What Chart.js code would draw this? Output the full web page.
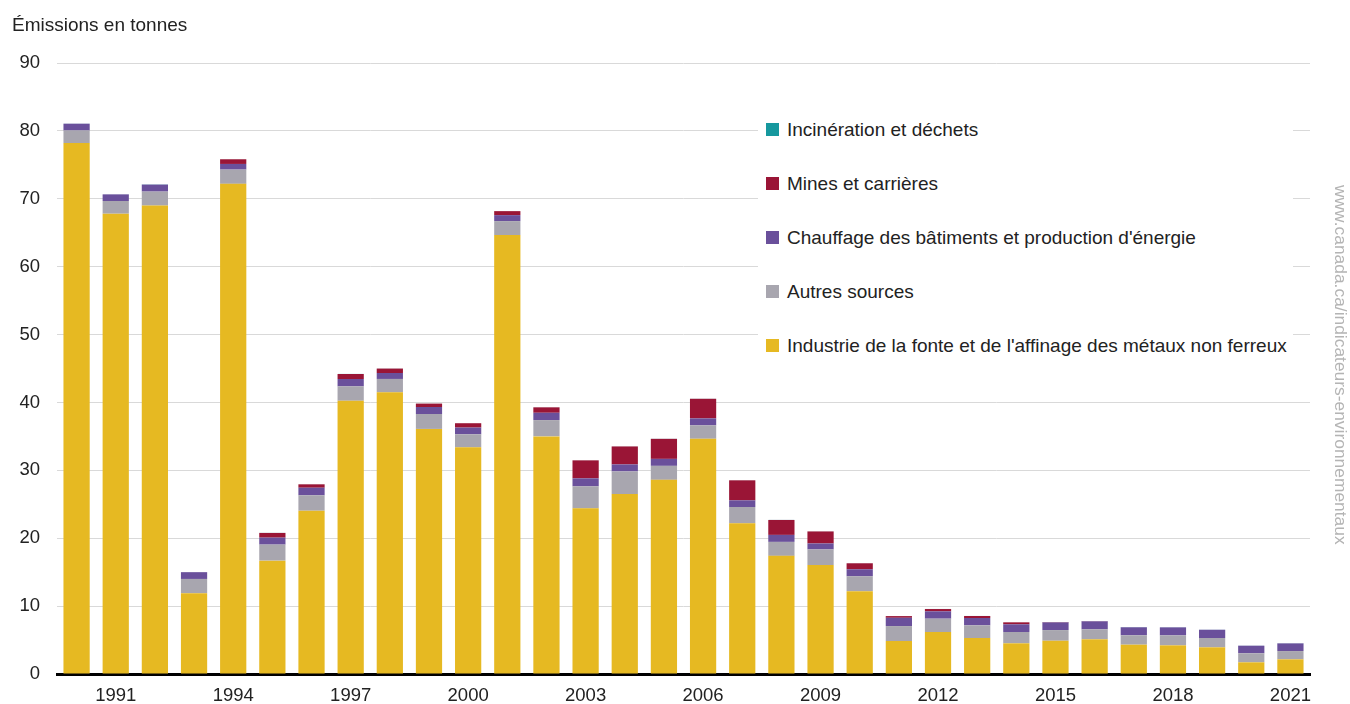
<!DOCTYPE html>
<html>
<head>
<meta charset="UTF-8">
<title>Émissions en tonnes</title>
<style>
	body {margin:0; background:#fff; font-family:"Liberation Sans", Arial, sans-serif;}
	#wrap {position:relative; width:1350px; height:704px;}
	#title {position:absolute; left:12px; top:14px; font-size:19px; color:#222;}
	#legend {position:absolute; left:758px; top:112px; width:535px; background:#fff; padding:4px 0;}
	.item {height:54px; line-height:28px; font-size:19px; color:#222; padding-left:8px;}
	.item span.box {display:inline-block; width:13px; height:13px; margin-right:8px; vertical-align:0px;}
	#source {position:absolute; left:1330px; top:185px; writing-mode:vertical-rl; font-size:17.4px; color:#b4b4b4;}
</style>
</head>
<body>
<div id="wrap">
	<canvas id="myChart" width="1350" height="704"></canvas>
	<div id="title">Émissions en tonnes</div>
	<div id="legend"></div>
	<div id="source">www.canada.ca/indicateurs-environnementaux</div>
</div>
<script src="https://cdn.jsdelivr.net/npm/chart.js@4"></script>
<script>
	// années 1990 - 2021
	const years = ['1990','1991','1992','1993','1994','1995','1996','1997','1998','1999',
		'2000','2001','2002','2003','2004','2005','2006','2007','2008','2009',
		'2010','2011','2012','2013','2014','2015','2016','2017','2018','2019','2020','2021'];
	// émissions (tonnes) par source
	const fonte = [78.2,67.8,69.0,11.9,72.2,16.7,24.05,40.25,41.5,36.1,
		33.4,64.65,35.0,24.4,26.5,28.6,34.65,22.2,17.4,16.05,
		12.2,4.86,6.19,5.3,4.52,4.9,5.11,4.32,4.22,3.93,1.72,2.16];
	const autres = [1.86,1.87,2.06,2.1,2.1,2.36,2.27,2.12,1.96,2.2,
		1.91,2.06,2.4,3.24,3.34,2.06,1.97,2.4,2.06,2.3,
		2.2,2.2,1.96,1.87,1.67,1.57,1.47,1.38,1.47,1.37,1.33,1.22];
	const chauffage = [1.0,0.98,1.03,1.0,0.83,1.03,1.12,1.08,0.88,1.03,
		0.99,0.88,1.08,1.18,1.03,1.03,1.03,0.98,1.03,0.88,
		1.03,1.22,1.08,1.08,1.13,1.13,1.18,1.18,1.18,1.22,1.12,1.13];
	const mines = [0,0,0,0,0.69,0.69,0.5,0.74,0.65,0.5,
		0.64,0.59,0.8,2.65,2.65,2.95,2.89,2.95,2.2,1.77,
		0.88,0.25,0.34,0.29,0.29,0.05,0.03,0,0,0,0,0];
	const incineration = [0.01,0.01,0.03,0.01,0.01,0.01,0.01,0.01,0.01,0.01,
		0.01,0.01,0.01,0.01,0.01,0.01,0.01,0.01,0.01,0.01,
		0.01,0.01,0.01,0.01,0.01,0.01,0.01,0.03,0.02,0.01,0.01,0.02];
	const yTicks = [0,10,20,30,40,50,60,70,80,90];

	const ctx = document.getElementById('myChart');
	const chart = new Chart(ctx, {
		type:'bar',
		data:{
			labels:years,
			datasets:[
				{label:"Industrie de la fonte et de l'affinage des métaux non ferreux", data:fonte, backgroundColor:'#E6B922'},
				{label:'Autres sources', data:autres, backgroundColor:'#A8A6AF'},
				{label:"Chauffage des bâtiments et production d'énergie", data:chauffage, backgroundColor:'#6A509B'},
				{label:'Mines et carrières', data:mines, backgroundColor:'#9A1536'},
				{label:'Incinération et déchets', data:incineration, backgroundColor:'#16989E'}
			]
		},
		options:{
			responsive:false,
			animation:false,
			layout:{padding:{left:0, right:40, top:63, bottom:0}},
			plugins:{legend:{display:false}, tooltip:{enabled:false}},
			datasets:{bar:{categoryPercentage:1, barPercentage:0.67}},
			scales:{
				x:{
					stacked:true,
					grid:{display:false, drawTicks:false},
					border:{display:true, color:'#000', width:3},
					ticks:{
						autoSkip:false, maxRotation:0, padding:11,
						color:'#222', font:{family:'Liberation Sans', size:18.5},
						callback:function(v, i){ return (Number(years[i]) - 1991) % 3 === 0 ? years[i] : ''; }
					},
					afterFit:function(s){ s.height = 30; }
				},
				y:{
					stacked:true, min:0, max:90,
					grid:{color:'#d9d9d9', lineWidth:1, drawTicks:false},
					border:{display:false},
					afterBuildTicks:function(s){ s.ticks = yTicks.map(v => ({value:v})); },
					ticks:{padding:17, color:'#222', font:{family:'Liberation Sans', size:18.5}},
					afterFit:function(s){ s.width = 57; }
				}
			}
		}
	});

	// légende (ordre inversé, comme la pile)
	let html = '';
	chart.data.datasets.slice().reverse().forEach(function(d){
		html += '<div class="item"><span class="box" style="background:' + d.backgroundColor + '"></span>' + d.label + '</div>';
	});
	document.getElementById('legend').innerHTML = html;
</script>
</body>
</html>
